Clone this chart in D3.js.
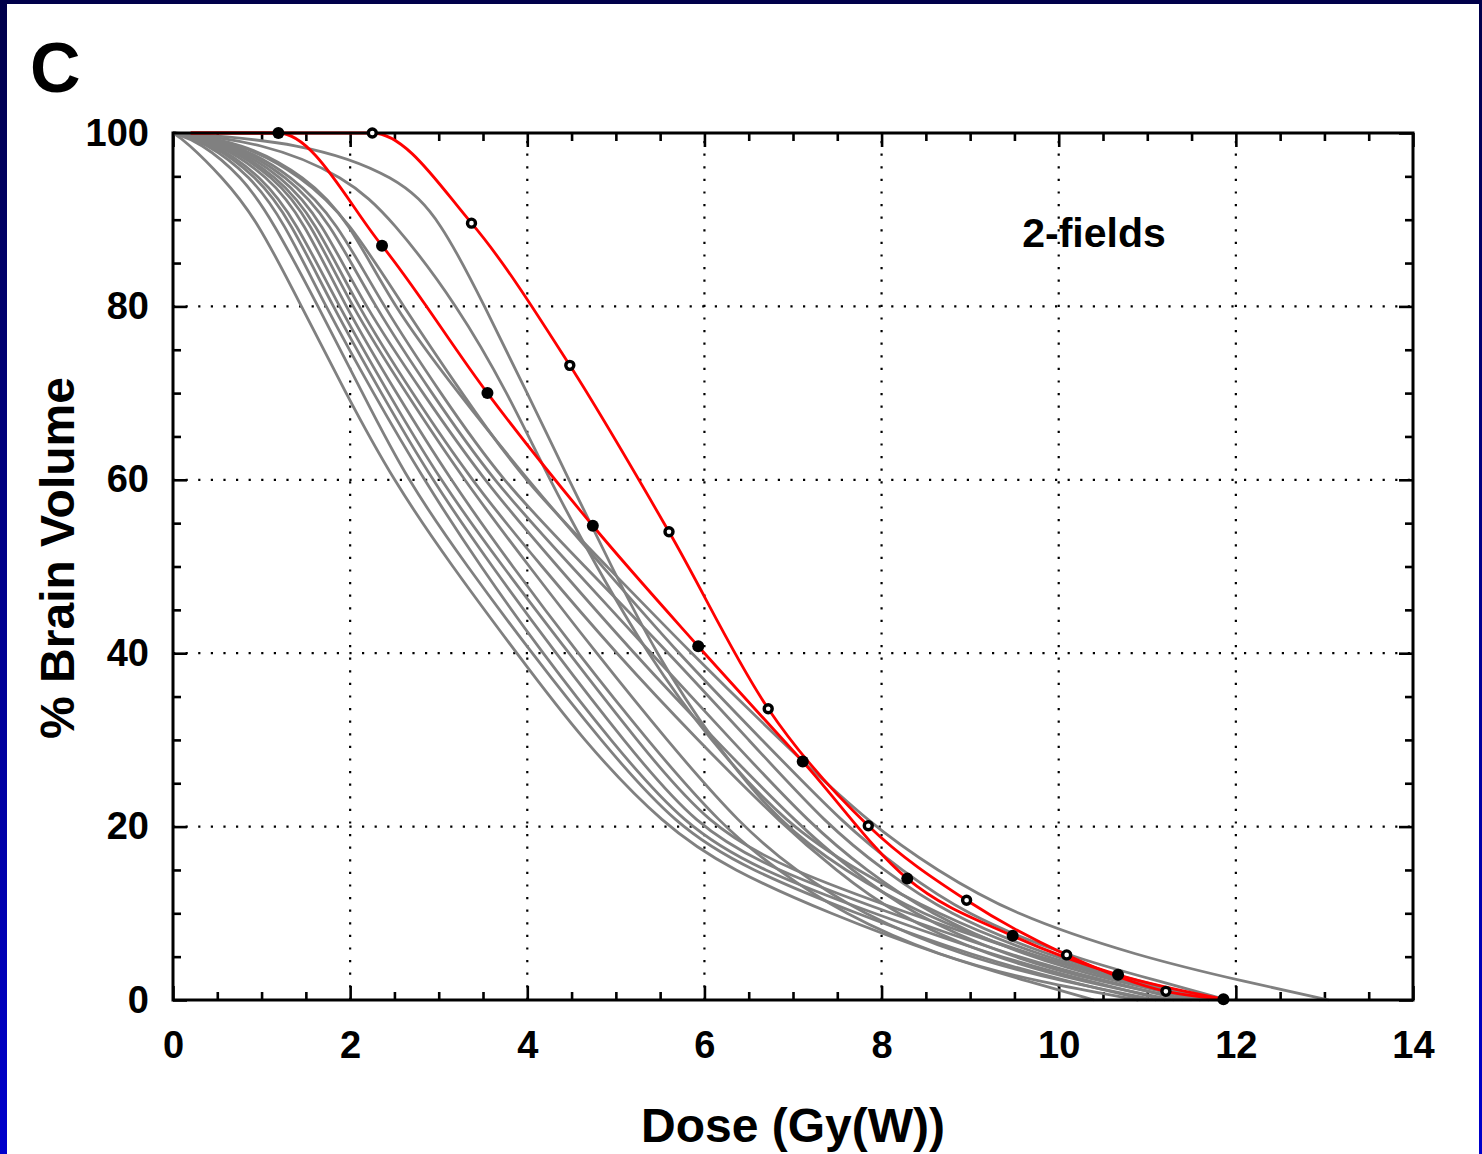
<!DOCTYPE html>
<html>
<head>
<meta charset="utf-8">
<script src="https://cdn.jsdelivr.net/npm/d3@7"></script>
<style>
  body { margin: 0; background: #fff; }
  svg { display: block; }
  text { font-family: "Liberation Sans", Arial, sans-serif; font-weight: bold; fill: #000; }
</style>
</head>
<body>
<div id="chart"></div>
<script>
// ---- data ----
const volumeLevels = [100, 99, 95, 90, 80, 70, 60, 50, 40, 30, 20, 15, 10, 5, 2, 0];

// dose (Gy(W)) at which each gray DVH reaches the volume levels above
const grayDoses = [
  [0, 0.15, 0.55, 0.95, 1.45, 1.95, 2.48, 3.15, 3.88, 4.62, 5.55, 6.30, 7.40, 8.70, 9.70, 10.40],
  [0, 0.30, 0.78, 1.12, 1.64, 2.14, 2.64, 3.32, 4.05, 4.82, 5.68, 6.50, 7.70, 9.05, 10.15, 11.00],
  [0, 0.36, 0.88, 1.24, 1.72, 2.26, 2.83, 3.47, 4.17, 4.93, 5.78, 6.62, 7.90, 9.30, 10.40, 11.20],
  [0, 0.40, 0.95, 1.32, 1.80, 2.35, 2.92, 3.60, 4.32, 5.08, 5.90, 6.78, 8.10, 9.50, 10.60, 11.40],
  [0, 0.44, 1.00, 1.38, 1.87, 2.43, 3.01, 3.72, 4.47, 5.23, 6.05, 6.95, 8.30, 9.72, 10.80, 11.60],
  [0, 0.48, 1.08, 1.47, 1.94, 2.52, 3.13, 3.83, 4.57, 5.35, 6.20, 6.82, 7.55, 8.65, 9.80, 10.90],
  [0, 0.52, 1.14, 1.54, 2.01, 2.63, 3.28, 4.02, 4.78, 5.57, 6.42, 7.02, 7.75, 8.92, 10.10, 11.10],
  [0, 0.56, 1.18, 1.60, 2.08, 2.70, 3.36, 4.16, 5.00, 5.92, 6.90, 7.48, 8.12, 9.22, 10.30, 11.30],
  [0, 0.60, 1.24, 1.67, 2.16, 2.82, 3.50, 4.34, 5.20, 6.12, 7.08, 7.66, 8.32, 9.42, 10.50, 11.50],
  [0, 0.64, 1.30, 1.76, 2.27, 2.92, 3.60, 4.50, 5.40, 6.30, 7.22, 7.82, 8.52, 9.62, 10.70, 11.60],
  [0, 0.68, 1.36, 1.84, 2.37, 3.02, 3.70, 4.65, 5.60, 6.50, 7.40, 8.02, 8.72, 9.90, 10.95, 11.80],
  [0, 0.74, 1.46, 1.98, 2.60, 3.26, 3.95, 4.90, 5.85, 6.85, 7.90, 8.62, 9.45, 10.90, 12.15, 13.05],
  [0, 0.78, 1.50, 1.98, 2.48, 3.22, 4.00, 4.85, 5.70, 6.65, 7.60, 8.22, 8.92, 10.10, 11.20, 11.90],
  [0, 1.00, 1.95, 2.48, 3.22, 3.78, 4.25, 4.78, 5.35, 6.05, 6.95, 7.72, 8.60, 9.80, 10.90, 11.70],
  [0, 1.45, 2.55, 3.02, 3.52, 4.00, 4.47, 4.95, 5.45, 6.08, 6.88, 7.58, 8.40, 9.70, 10.90, 11.80]
];

// red curve with filled markers
const redFilledDose = [1.19, 2.36, 3.55, 4.74, 5.93, 7.11, 8.29, 9.48, 10.67, 11.86];
const redFilledVol  = [100, 87.0, 70.0, 54.7, 40.8, 27.5, 14.0, 7.4, 2.9, 0.1];
// red curve with open markers
const redOpenDose = [2.25, 3.37, 4.48, 5.60, 6.72, 7.85, 8.96, 10.09, 11.21];
const redOpenVol  = [100, 89.6, 73.2, 54.0, 33.6, 20.1, 11.5, 5.2, 1.0];
const redStartDose = 0.2;
const redOpenEnd = [11.86, 0.1];

const xTicks = [0, 2, 4, 6, 8, 10, 12, 14];
const yTicks = [0, 20, 40, 60, 80, 100];

// ---- layout ----
const width = 1482, height = 1154;
const plot = { left: 173, right: 1413, top: 133, bottom: 1000 };

const svg = d3.select("#chart").append("svg")
  .attr("width", width)
  .attr("height", height);

// frame of the slide
const defs = svg.append("defs");
const grad = defs.append("linearGradient")
  .attr("id", "edge").attr("x1", 0).attr("y1", 0).attr("x2", 0).attr("y2", 1);
grad.append("stop").attr("offset", "0%").attr("stop-color", "#00004a");
grad.append("stop").attr("offset", "100%").attr("stop-color", "#0000cc");

svg.append("rect").attr("width", width).attr("height", height).attr("fill", "#fff");
svg.append("rect").attr("x", 0).attr("y", 0).attr("width", width).attr("height", 4).attr("fill", "#00004a");
svg.append("rect").attr("x", 0).attr("y", 0).attr("width", 7).attr("height", height).attr("fill", "url(#edge)");
svg.append("rect").attr("x", width - 3).attr("y", 0).attr("width", 3).attr("height", height).attr("fill", "url(#edge)");

const x = d3.scaleLinear().domain([0, 14]).range([plot.left, plot.right]);
const y = d3.scaleLinear().domain([0, 100]).range([plot.bottom, plot.top]);

// grid (dotted)
const grid = svg.append("g")
  .attr("stroke", "#000")
  .attr("stroke-width", 2.2)
  .attr("stroke-dasharray", "2.2 10.4");
grid.selectAll("line.v")
  .data(xTicks.filter(d => d > 0 && d < 14))
  .enter().append("line")
  .attr("x1", d => x(d)).attr("x2", d => x(d))
  .attr("y1", plot.bottom).attr("y2", plot.top);
grid.selectAll("line.h")
  .data(yTicks.filter(d => d > 0 && d < 100))
  .enter().append("line")
  .attr("x1", plot.left).attr("x2", plot.right)
  .attr("y1", d => y(d)).attr("y2", d => y(d));

// axes: major + minor ticks on all four sides, pointing inwards
const xMinor = d3.range(0, 14.01, 0.5).filter(d => d % 2 !== 0);
const yMinor = d3.range(0, 100.1, 5).filter(d => d % 20 !== 0);

function styleAxis(g) {
  g.select(".domain").remove();
  g.selectAll(".tick line").attr("stroke", "#000").attr("stroke-width", 2.6);
  g.selectAll(".tick text").attr("font-size", 38).attr("font-family", "Liberation Sans, Arial, sans-serif").attr("font-weight", "bold");
}

svg.append("g")
  .attr("transform", `translate(0,${plot.bottom})`)
  .call(d3.axisBottom(x).tickValues(xTicks).tickSize(-14).tickPadding(31).tickFormat(d3.format("d")))
  .call(styleAxis);
svg.append("g")
  .attr("transform", `translate(0,${plot.bottom})`)
  .call(d3.axisBottom(x).tickValues(xMinor).tickSize(-8).tickFormat(""))
  .call(styleAxis);
svg.append("g")
  .attr("transform", `translate(0,${plot.top})`)
  .call(d3.axisTop(x).tickValues(xTicks).tickSize(-14).tickFormat(""))
  .call(styleAxis);
svg.append("g")
  .attr("transform", `translate(0,${plot.top})`)
  .call(d3.axisTop(x).tickValues(xMinor).tickSize(-8).tickFormat(""))
  .call(styleAxis);

svg.append("g")
  .attr("transform", `translate(${plot.left},0)`)
  .call(d3.axisLeft(y).tickValues(yTicks).tickSize(-14).tickPadding(24).tickFormat(d3.format("d")))
  .call(styleAxis);
svg.append("g")
  .attr("transform", `translate(${plot.left},0)`)
  .call(d3.axisLeft(y).tickValues(yMinor).tickSize(-8).tickFormat(""))
  .call(styleAxis);
svg.append("g")
  .attr("transform", `translate(${plot.right},0)`)
  .call(d3.axisRight(y).tickValues(yTicks).tickSize(-14).tickFormat(""))
  .call(styleAxis);
svg.append("g")
  .attr("transform", `translate(${plot.right},0)`)
  .call(d3.axisRight(y).tickValues(yMinor).tickSize(-8).tickFormat(""))
  .call(styleAxis);

// curves
const grayLine = d3.line()
  .x(d => x(d[0]))
  .y(d => y(d[1]))
  .curve(d3.curveBasis);

const redLine = d3.line()
  .x(d => x(d[0]))
  .y(d => y(d[1]))
  .curve(d3.curveMonotoneX);

svg.append("g").selectAll("path")
  .data(grayDoses.map(ds => ds.map((d, i) => [d, volumeLevels[i]])))
  .enter().append("path")
  .attr("fill", "none")
  .attr("stroke", "#808080")
  .attr("stroke-width", 2.8)
  .attr("d", grayLine);

const filledPts = redFilledDose.map((d, i) => [d, redFilledVol[i]]);
const openPts = redOpenDose.map((d, i) => [d, redOpenVol[i]]);

svg.append("path")
  .datum([[redStartDose, 100], ...filledPts])
  .attr("fill", "none").attr("stroke", "#ff0000").attr("stroke-width", 2.8)
  .attr("d", redLine);
svg.append("path")
  .datum([[redStartDose, 100], ...openPts, redOpenEnd])
  .attr("fill", "none").attr("stroke", "#ff0000").attr("stroke-width", 2.8)
  .attr("d", redLine);

// frame box
svg.append("rect")
  .attr("x", plot.left).attr("y", plot.top)
  .attr("width", plot.right - plot.left).attr("height", plot.bottom - plot.top)
  .attr("fill", "none").attr("stroke", "#000").attr("stroke-width", 3);

// markers
svg.append("g").selectAll("circle")
  .data(filledPts)
  .enter().append("circle")
  .attr("cx", d => x(d[0])).attr("cy", d => y(d[1]))
  .attr("r", 6).attr("fill", "#000");
svg.append("g").selectAll("circle")
  .data(openPts)
  .enter().append("circle")
  .attr("cx", d => x(d[0])).attr("cy", d => y(d[1]))
  .attr("r", 4).attr("fill", "#fff").attr("stroke", "#000").attr("stroke-width", 3.4);

// texts
svg.append("text").attr("x", 30).attr("y", 92).attr("font-size", 70).text("C");
svg.append("text").attr("x", 1094).attr("y", 247).attr("text-anchor", "middle")
  .attr("font-size", 41).text("2-fields");
svg.append("text").attr("x", 793).attr("y", 1142).attr("text-anchor", "middle")
  .attr("font-size", 48).text("Dose (Gy(W))");
svg.append("text").attr("transform", "translate(74,558) rotate(-90)")
  .attr("text-anchor", "middle").attr("font-size", 48).text("% Brain Volume");
</script>
</body>
</html>
